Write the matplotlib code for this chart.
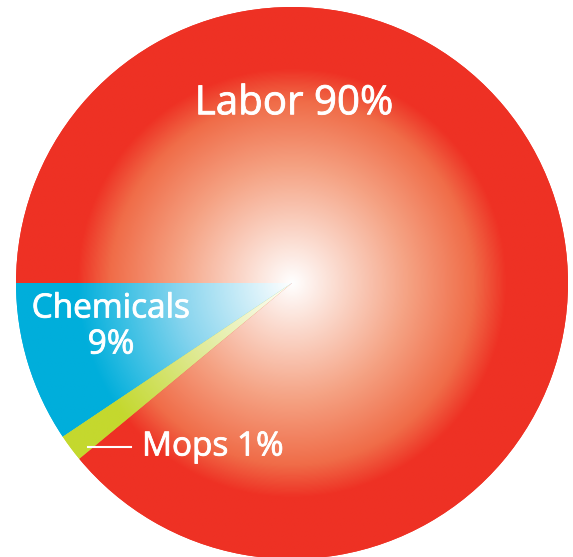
import matplotlib
matplotlib.use('Agg')
import matplotlib.pyplot as plt
import matplotlib.patheffects as pe
from matplotlib.colors import LinearSegmentedColormap
import numpy as np

# slices, in drawing order (counter-clockwise from the left horizontal)
labels = ['Chemicals', 'Mops', 'Labor']
printed_pct = [9, 1, 90]
# slice sizes as they are drawn in the picture (Mops is widened a bit)
drawn_pct = [9.4, 1.6, 89.0]
colors = ['#00AEDB', '#C4D82E', '#EE3124']
mid_colors = ['#86D4EE', '#E0EA96', '#F5A283']
late_colors = ['#2DBCE2', '#CCDE50', '#F06C48']

fig = plt.figure(figsize=(5.73, 5.57), dpi=100)
ax = fig.add_axes([0, 0, 1, 1])

# pie geometry in pixel coordinates (y up)
cx, cy, R = 292, 274, 276

wedges, _ = ax.pie(drawn_pct, colors=colors, startangle=180, counterclock=True,
                   center=(cx, cy), radius=R, wedgeprops=dict(linewidth=0))
ax.set_xlim(0, 573)
ax.set_ylim(0, 557)
ax.axis('off')

# radial gradient from white in the middle to the slice colour at the rim
n = 600
xs = np.linspace(cx - R, cx + R, n)
ys = np.linspace(cy - R, cy + R, n)
X, Y = np.meshgrid(xs, ys)
t = np.sqrt((X - cx) ** 2 + (Y - cy) ** 2) / R
for w, c, m, l in zip(wedges, colors, mid_colors, late_colors):
    cmap = LinearSegmentedColormap.from_list(
        'g', [(0, 'white'), (0.42, m), (0.66, l), (0.78, c), (1, c)])
    im = ax.imshow(cmap(np.clip(t, 0, 1)), extent=(cx - R, cx + R, cy - R, cy + R),
                   origin='lower', interpolation='bilinear', zorder=2)
    im.set_clip_path(w)

font = ['Open Sans', 'DejaVu Sans']
bold = [pe.withStroke(linewidth=0.6, foreground='white')]
ax.text(294, 557 - 104, f'{labels[2]} {printed_pct[2]}%', color='white', fontsize=29,
        family=font, ha='center', va='center', zorder=5, path_effects=bold)
ax.text(111, 557 - 327, f'{labels[0]}\n{printed_pct[0]}%', color='white', fontsize=24,
        family=font, ha='center', va='center', linespacing=1.12, zorder=5,
        path_effects=bold)
ax.text(142, 557 - 447, f'{labels[1]} {printed_pct[1]}%', color='white', fontsize=24,
        family=font, ha='left', va='center', zorder=5, path_effects=bold)
ax.plot([88, 131], [557 - 447, 557 - 447], color='white', lw=1.5, zorder=5)

fig.savefig('out.png', dpi=100)
